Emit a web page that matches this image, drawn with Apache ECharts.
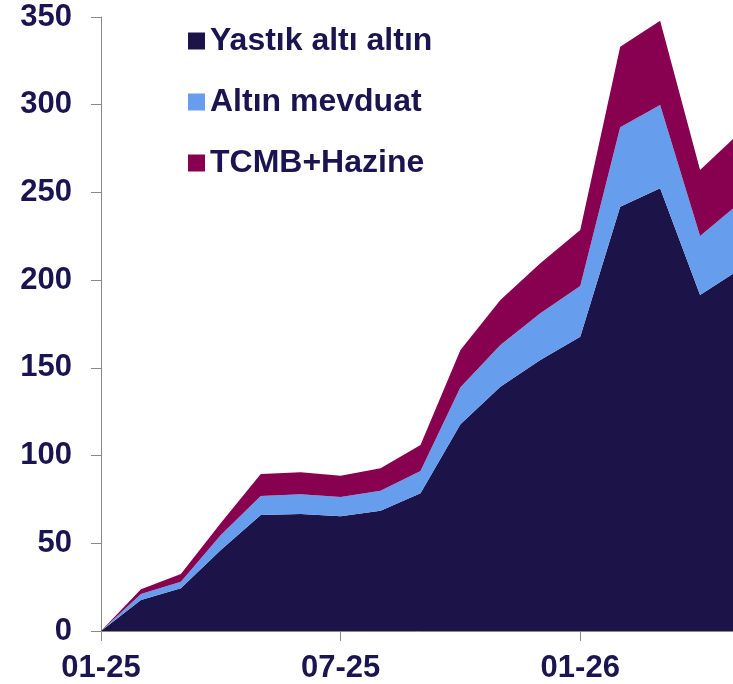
<!DOCTYPE html>
<html>
<head>
<meta charset="utf-8">
<script src="https://cdn.jsdelivr.net/npm/echarts@6/dist/echarts.min.js"></script>
<style>
  html, body { margin: 0; padding: 0; background: #fff; }
  #main { width: 733px; height: 684px; }
</style>
</head>
<body>
<div id="main"></div>
<script>
// monthly points, the last one is cut off by the right edge of the picture
var months = ['01-25','02-25','03-25','04-25','05-25','06-25','07-25','08-25','09-25',
              '10-25','11-25','12-25','01-26','02-26','03-26','04-26','05-26'];
var yastik = [0, 17.7, 24.3, 46.2, 66.1, 66.7, 65.4, 68.6, 78.5, 117.8, 139.3, 154.5, 167.8, 241.9, 252.4, 191.6, 206.2];
var mevduat = [0, 3.4, 3.8, 8.5, 10.9, 11.2, 11.0, 11.4, 12.7, 21.1, 23.8, 26.6, 28.9, 45.3, 47.5, 33.6, 38.0];
var tcmb = [0, 2.7, 4.4, 6.9, 12.5, 12.6, 12.1, 12.8, 14.8, 21.3, 25.6, 28.5, 31.9, 45.9, 48.0, 37.6, 40.0];
var yTicks = [0, 50, 100, 150, 200, 250, 300, 350];

var textColor = '#1c1450';
var font = '"Liberation Sans", Arial, sans-serif';

function areaSeries(name, data, color) {
  return {
    name: name,
    type: 'line',
    stack: 'total',
    data: data,
    symbol: 'none',
    lineStyle: { width: 0 },
    areaStyle: { color: color, opacity: 1 },
    itemStyle: { color: color },
    emphasis: { disabled: true }
  };
}

var chart = echarts.init(document.getElementById('main'));
var option = {
  animation: false,
  backgroundColor: '#fff',
  // plot runs a little past the right edge, like the cropped original
  grid: { left: 101, top: 17, bottom: 53, width: 639, outerBoundsMode: 'none', containLabel: false },
  legend: {
    orient: 'vertical',
    left: 183,
    top: 20,
    itemWidth: 17,
    itemHeight: 17,
    itemGap: 29,
    itemTextGap: 11,
    icon: 'rect',
    textStyle: { color: textColor, fontSize: 32, fontWeight: 'bold', fontFamily: font },
    data: ['Yastık altı altın', 'Altın mevduat', 'TCMB+Hazine']
  },
  xAxis: {
    type: 'category',
    boundaryGap: false,
    data: months,
    axisLine: { lineStyle: { color: '#888', width: 1 } },
    axisTick: { interval: 5, length: 10, lineStyle: { color: '#888' } },
    axisLabel: {
      interval: 5, margin: 22, color: textColor, fontSize: 31,
      fontWeight: 'bold', fontFamily: font
    },
    splitLine: { show: false }
  },
  yAxis: {
    type: 'value',
    min: yTicks[0],
    max: yTicks[yTicks.length - 1],
    interval: 50,
    axisLine: { show: true, lineStyle: { color: '#888', width: 1 } },
    axisTick: { show: true, length: 10, lineStyle: { color: '#888' } },
    axisLabel: {
      margin: 29, color: textColor, fontSize: 31,
      fontWeight: 'bold', fontFamily: font
    },
    splitLine: { show: false }
  },
  series: [
    areaSeries('Yastık altı altın', yastik, '#1c1448'),
    areaSeries('Altın mevduat', mevduat, '#669dec'),
    areaSeries('TCMB+Hazine', tcmb, '#880050')
  ]
};
chart.setOption(option);
</script>
</body>
</html>
